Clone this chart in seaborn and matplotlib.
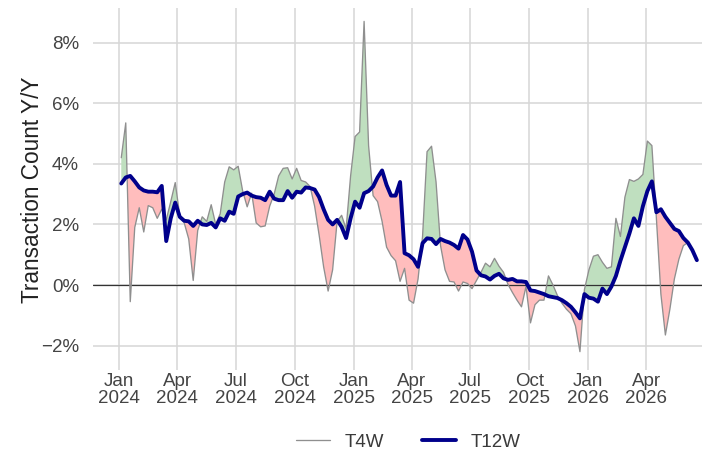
import numpy as np
import pandas as pd
import matplotlib
matplotlib.use("Agg")
import matplotlib.pyplot as plt
import matplotlib.dates as mdates
from matplotlib.ticker import FuncFormatter
import seaborn as sns

# weekly y/y growth of transaction count, in percent
weeks = pd.date_range("2024-01-05", periods=129, freq="7D")

t4w = [
    4.2, 5.35, -0.55, 1.9, 2.55, 1.75, 2.62, 2.55, 2.2, 2.5,
    2.15, 2.75, 3.38, 2.3, 2.05, 1.52, 0.15, 1.8, 2.25, 2.1,
    2.65, 2.0, 2.35, 3.4, 3.9, 3.8, 3.92, 3.1, 2.58, 3.03,
    2.05, 1.92, 1.95, 2.6, 3.0, 3.6, 3.85, 3.87, 3.5, 3.85,
    3.45, 3.4, 3.25, 2.6, 1.65, 0.6, -0.2, 0.5, 2.1, 2.3,
    1.85, 3.6, 4.9, 5.05, 8.7, 4.6, 2.95, 2.75, 2.1, 1.25,
    0.97, 0.8, 0.12, 0.55, -0.5, -0.6, 0.2, 1.6, 4.4, 4.58,
    3.4, 1.3, 0.5, 0.12, 0.1, -0.2, 0.1, 0.05, -0.12, 0.15,
    0.42, 0.72, 0.6, 0.88, 0.62, 0.42, 0.02, -0.25, -0.5, -0.72,
    -0.05, -1.25, -0.65, -0.5, -0.5, 0.3, 0.0, -0.35, -0.6, -0.8,
    -0.95, -1.35, -2.2, -0.15, 0.5, 0.95, 1.0, 0.75, 0.55, 0.6,
    2.2, 1.6, 2.9, 3.48, 3.42, 3.5, 3.65, 4.75, 4.6, 2.2,
    -0.3, -1.65, -0.8, 0.2, 0.85, 1.3, 1.4, 1.15, 0.82,
]

t12w = [
    3.35, 3.55, 3.6, 3.42, 3.22, 3.12, 3.08, 3.08, 3.06, 3.27,
    1.45, 2.2, 2.72, 2.25, 2.12, 2.1, 1.95, 2.12, 2.0, 1.98,
    2.05, 1.9, 2.2, 2.12, 2.42, 2.35, 2.92, 3.0, 3.05, 2.95,
    2.9, 2.88, 2.8, 3.08, 2.85, 2.8, 2.8, 3.1, 2.88, 3.08,
    3.05, 3.22, 3.2, 3.15, 2.9, 2.5, 2.15, 2.0, 2.15, 1.92,
    1.55, 2.2, 2.75, 2.55, 3.03, 3.1, 3.25, 3.55, 3.78, 3.3,
    2.95, 2.95, 3.4, 1.05, 0.98, 0.85, 0.6, 1.38, 1.54, 1.52,
    1.35, 1.52, 1.45, 1.4, 1.32, 1.2, 1.65, 1.5, 1.1, 0.48,
    0.32, 0.28, 0.18, 0.3, 0.37, 0.22, 0.17, 0.2, 0.12, 0.12,
    0.1, -0.18, -0.2, -0.25, -0.3, -0.37, -0.4, -0.43, -0.5, -0.6,
    -0.72, -0.9, -1.1, -0.3, -0.42, -0.45, -0.55, -0.12, -0.3, -0.05,
    0.3, 0.8, 1.25, 1.7, 2.2, 1.95, 2.6, 3.1, 3.42, 2.4,
    2.5, 2.25, 2.05, 1.85, 1.78, 1.55, 1.4, 1.15, 0.82,
]

df = pd.DataFrame({"week": weeks, "T4W": t4w, "T12W": t12w})

sns.set_theme(style="whitegrid")
plt.rcParams["font.family"] = ["Liberation Sans", "DejaVu Sans"]

fig = plt.figure(figsize=(7.02, 4.63), dpi=100)
ax = fig.add_axes([93 / 702, 1 - 362 / 463, 609 / 702, 354 / 463])

# shaded gaps between the short and long window
ax.fill_between(df["week"], df["T4W"], df["T12W"], where=df["T4W"] >= df["T12W"],
                interpolate=True, color="#bfdfbf", linewidth=0)
ax.fill_between(df["week"], df["T4W"], df["T12W"], where=df["T4W"] < df["T12W"],
                interpolate=True, color="#ffbdbd", linewidth=0)

sns.lineplot(data=df, x="week", y="T4W", ax=ax, color="#8f8f8f", linewidth=0.95, label="T4W")
sns.lineplot(data=df, x="week", y="T12W", ax=ax, color="#00008b", linewidth=2.8, label="T12W")

ax.axhline(0, color="#333333", linewidth=0.9, zorder=1.5)

ax.set_xlim(pd.Timestamp("2023-11-22"), pd.Timestamp("2026-06-27"))
ax.set_ylim((285 - 362) / 30.3, (285 - 8) / 30.3)

ax.set_yticks([-2, 0, 2, 4, 6, 8])
ax.yaxis.set_major_formatter(FuncFormatter(lambda v, p: f"{v:.0f}%".replace("-", "\u2212")))
ticks = pd.date_range("2024-01-01", "2026-04-01", freq="QS")
ax.set_xticks(ticks)
ax.xaxis.set_major_formatter(mdates.DateFormatter("%b\n%Y"))

ax.grid(True, color="#d6d6d6", linewidth=1.1)
for s in ax.spines.values():
    s.set_visible(False)
ax.tick_params(axis="x", bottom=True, length=6, width=1.1, color="#d6d6d6",
               labelsize=13.5, labelcolor="#444444", pad=2)
ax.tick_params(axis="y", left=False, labelsize=13.5, labelcolor="#444444", pad=4)
for lab in ax.get_xticklabels():
    lab.set_linespacing(1.0)

ax.set_xlabel("")
ax.set_ylabel("Transaction Count Y/Y", fontsize=16.3, color="#222222")
ax.yaxis.set_label_coords(-0.08, 0.486)

ax.legend(loc="center", bbox_to_anchor=(0.518, -0.226), ncol=2, frameon=False,
          fontsize=13.5, handlelength=1.8, handletextpad=0.8, columnspacing=2.0,
          labelcolor="#3a3a3a")

fig.savefig("out.png", dpi=100)
